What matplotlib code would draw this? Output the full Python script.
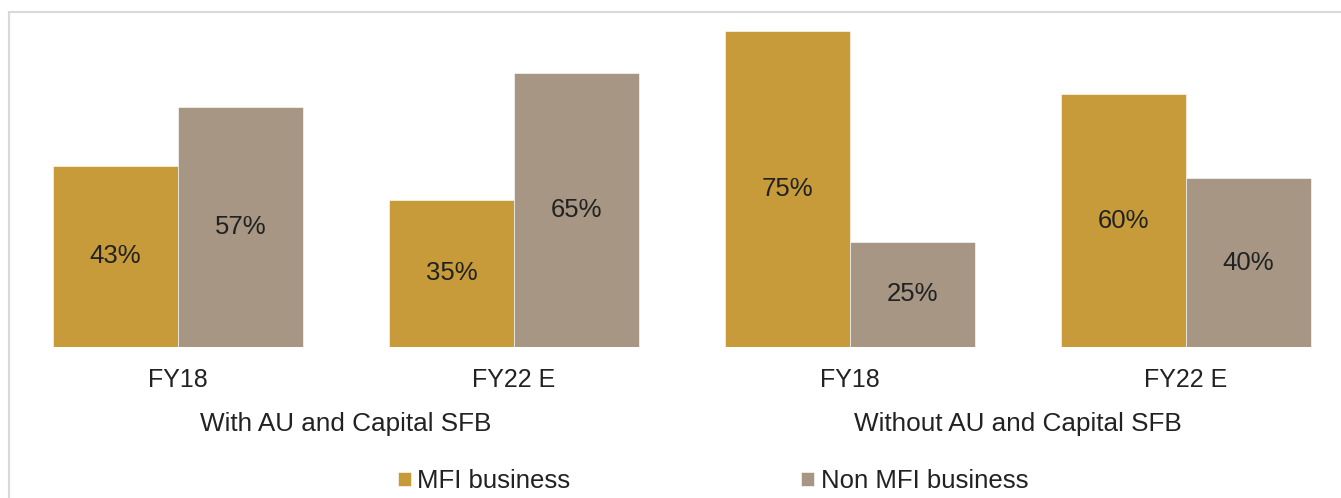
import matplotlib
matplotlib.use("Agg")
import matplotlib.pyplot as plt
import matplotlib.transforms as mtransforms
from matplotlib.patches import Rectangle
import numpy as np

plt.rcParams["font.family"] = ["Liberation Sans", "DejaVu Sans"]

# data
periods = ["FY18", "FY22 E", "FY18", "FY22 E"]
groups = ["With AU and Capital SFB", "Without AU and Capital SFB"]
group_centers = [0.5, 2.5]
mfi = [43, 35, 75, 60]
non_mfi = [57, 65, 25, 40]
series_names = ["MFI business", "Non MFI business"]

GOLD = "#C79B3A"
TAUPE = "#A69683"
TEXT = "#222222"

W, H = 1341, 498
fig = plt.figure(figsize=(W / 100, H / 100), dpi=100)

# axes: baseline at y=347px, top at y=12px, full width
ax = fig.add_axes([0, (H - 347) / H, 1, (347 - 12) / H])
ax.set_xlim(-178 / 336, (W - 178) / 336)
ax.set_ylim(0, (347 - 12) / ((347 - 31) / 75))

x = np.arange(len(periods))
w = 0.372
b1 = ax.bar(x - w / 2, mfi, w, color=GOLD, edgecolor="white", linewidth=0.4,
            label=series_names[0])
b2 = ax.bar(x + w / 2, non_mfi, w, color=TAUPE, edgecolor="white", linewidth=0.4,
            label=series_names[1])
for bars in (b1, b2):
    ax.bar_label(bars, fmt="%d%%", label_type="center", fontsize=18.5, color=TEXT)

ax.set_xticks(x)
ax.set_xticklabels(periods, fontsize=18, color=TEXT)
ax.tick_params(axis="x", length=0, pad=15)
ax.set_yticks([])
for s in ax.spines.values():
    s.set_visible(False)

# group labels under the period labels
trans = mtransforms.blended_transform_factory(ax.transData, fig.transFigure)
for gx, g in zip(group_centers, groups):
    ax.text(gx, (H - 424) / H, g, transform=trans, ha="center", va="center",
            fontsize=18.8, color=TEXT)

fig.legend(handles=[b1, b2], loc="center", bbox_to_anchor=(713 / W, (H - 481) / H),
           ncol=2, frameon=False, fontsize=18.5, handlelength=0.5, handleheight=0.5,
           handletextpad=0.25, columnspacing=9.0, labelcolor=TEXT)

# light outer frame (runs off right and bottom edges)
fig.add_artist(Rectangle((9 / W, -0.1), 2, (H - 12) / H + 0.1, transform=fig.transFigure,
                         fill=False, edgecolor="#D9D9D9", linewidth=1.5))

fig.savefig("out.png", dpi=100)
